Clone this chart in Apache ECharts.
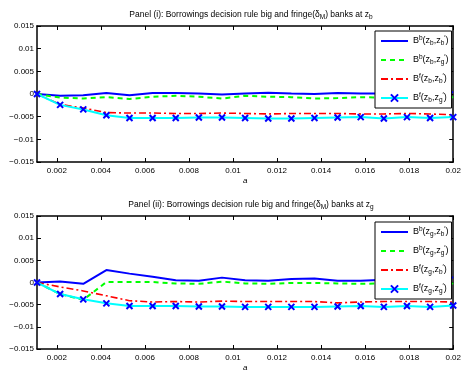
<!DOCTYPE html>
<html>
<head>
<meta charset="utf-8">
<script src="https://cdn.jsdelivr.net/npm/echarts@6/dist/echarts.min.js"></script>
<style>
  html, body { margin: 0; padding: 0; background: #fff; }
  #main { width: 464px; height: 373px; }
</style>
</head>
<body>
<div id="main"></div>
<script>
// x values (a)
var aVals = [0.0011, 0.00215, 0.0032, 0.00425, 0.0053, 0.00635, 0.0074, 0.00845, 0.0095, 0.01055,
             0.0116, 0.01265, 0.0137, 0.01475, 0.0158, 0.01685, 0.0179, 0.01895, 0.02];
var xTicks = [0.002, 0.004, 0.006, 0.008, 0.01, 0.012, 0.014, 0.016, 0.018, 0.02];

// Panel (i): at z_b
var bb_zb_zb = [0, -0.0004, -0.0003, 0.0002, -0.0003, 0.0002, 0.0002, 0.0001, -0.0001, 0.0001,
                0.0003, 0.0001, 0.0000, 0.0002, 0.0001, 0.0001, 0.0002, 0.0004, 0.0004];
var bb_zb_zg = [0, -0.0008, -0.001, -0.0007, -0.0011, -0.0006, -0.0004, -0.0006, -0.001, -0.0004,
                -0.0006, -0.0007, -0.001, -0.0009, -0.0007, -0.0008, -0.0008, -0.0007, -0.0007];
var bf_zb_zb = [0, -0.0023, -0.0031, -0.0041, -0.0042, -0.0042, -0.0043, -0.0043, -0.0042, -0.0043,
                -0.0044, -0.0043, -0.0043, -0.0043, -0.0044, -0.0044, -0.0043, -0.0044, -0.0046];
var bf_zb_zg = [0, -0.0024, -0.0034, -0.0047, -0.0053, -0.0053, -0.0053, -0.0052, -0.0052, -0.0053,
                -0.0054, -0.0054, -0.0053, -0.0052, -0.0051, -0.0054, -0.0051, -0.0053, -0.0051];

// Panel (ii): at z_g
var bb_zg_zb = [0, 0.0002, -0.0003, 0.0028, 0.002, 0.0013, 0.0005, 0.0004, 0.0011, 0.0005,
                0.0004, 0.0008, 0.0009, 0.0004, 0.0004, 0.0006, 0.0008, 0.001, 0.0011];
var bb_zg_zg = [0, -0.0026, -0.0039, 0.0001, 0.0001, 0.0001, -0.0002, -0.0003, 0.0002, -0.0002,
                -0.0003, -0.0001, -0.0001, -0.0002, -0.0003, -0.0002, -0.0002, -0.0003, -0.0002];
var bf_zg_zb = [0, -0.001, -0.0019, -0.003, -0.0041, -0.0044, -0.0043, -0.0044, -0.0042, -0.0043,
                -0.0043, -0.0043, -0.0043, -0.0046, -0.0044, -0.0043, -0.0043, -0.0043, -0.0044];
var bf_zg_zg = [0, -0.0026, -0.0038, -0.0047, -0.0053, -0.0053, -0.0053, -0.0054, -0.0054, -0.0055,
                -0.0055, -0.0055, -0.0055, -0.0054, -0.0053, -0.0055, -0.0053, -0.0055, -0.0052];

var FONT = 'Liberation Sans, Arial, sans-serif';

function pairs(ys) {
    return ys.map(function (y, i) { return [aVals[i], y]; });
}

// name like 'Bb_zb_zg' -> rich text B^b(z_b,z_g')
function legendLabel(name) {
    var p = name.split('_');
    return '{n|B}{sup|' + p[0].charAt(1) + '}{n|(z}{sub|' + p[1].charAt(1) + '}{n|,z}{sub|' +
        p[2].charAt(1) + '}{sup|\u2032}{n|)}';
}

var richText = {
    n: { fontSize: 9, fontFamily: FONT, color: '#000', lineHeight: 12, verticalAlign: 'middle' },
    sup: { fontSize: 6.5, fontFamily: FONT, color: '#000', lineHeight: 7, verticalAlign: 'top' },
    sub: { fontSize: 6.5, fontFamily: FONT, color: '#000', lineHeight: 7, verticalAlign: 'bottom' }
};

var titleRich = {
    t: { fontSize: 8.5, fontFamily: FONT, fontWeight: 'normal', color: '#000', lineHeight: 12, verticalAlign: 'middle' },
    s: { fontSize: 6.5, fontFamily: FONT, fontWeight: 'normal', color: '#000', lineHeight: 6, verticalAlign: 'bottom' }
};

var grids = [
    { left: 37, top: 26, width: 418, height: 136 },
    { left: 37, top: 216, width: 418, height: 136 }
];

function xAx(g, pos) {
    var main = pos === 'bottom';
    return {
        type: 'value', gridIndex: g, position: pos, min: 0.0011, max: 0.02,
        name: main ? 'a' : '', nameLocation: 'middle', nameGap: 15,
        nameTextStyle: { fontFamily: FONT, fontSize: 8, fontStyle: 'italic', color: '#000' },
        axisLine: { show: true, onZero: false, lineStyle: { color: '#000', width: 1.5 } },
        axisTick: { show: true, inside: true, length: 4, customValues: xTicks, lineStyle: { color: '#000' } },
        axisLabel: {
            show: main, customValues: xTicks, margin: 5, fontSize: 8, fontFamily: FONT, color: '#000',
            formatter: function (v) { return String(+(+v).toFixed(4)); }
        },
        splitLine: { show: false }
    };
}

function yAx(g, pos) {
    var main = pos === 'left';
    return {
        type: 'value', gridIndex: g, position: pos, min: -0.015, max: 0.015, interval: 0.005,
        axisLine: { show: true, onZero: false, lineStyle: { color: '#000', width: 1.5 } },
        axisTick: { show: true, inside: true, length: 4, lineStyle: { color: '#000' } },
        axisLabel: {
            show: main, margin: 3, fontSize: 8, fontFamily: FONT, color: '#000',
            formatter: function (v) {
                var s = String(+(+v).toFixed(4));
                return s.replace('-', '\u2212');
            }
        },
        splitLine: { show: false }
    };
}

var lineStyles = [
    { color: '#0000ff', width: 2, type: 'solid' },
    { color: '#00ff00', width: 2, type: [5, 4] },
    { color: '#ff0000', width: 1.6, type: [7, 3, 2, 3] },
    { color: '#00ffff', width: 2, type: 'solid' }
];

function makeSeries(names, datas, g) {
    return names.map(function (nm, k) {
        var s = {
            name: nm, type: 'line', xAxisIndex: g * 2, yAxisIndex: g * 2,
            data: pairs(datas[k]),
            lineStyle: lineStyles[k],
            itemStyle: { color: lineStyles[k].color },
            symbol: 'none',
            z: 2 + k
        };
        if (k === 3) {
            s.symbol = 'path://M0,0L10,10M10,0L0,10';
            s.symbolSize = 6;
            s.showSymbol = true;
            s.itemStyle = { color: '#0000ff', borderColor: '#0000ff', borderWidth: 2 };
        }
        return s;
    });
}

var names1 = ['Bb_zb_zb', 'Bb_zb_zg', 'Bf_zb_zb', 'Bf_zb_zg'];
var names2 = ['Bb_zg_zb', 'Bb_zg_zg', 'Bf_zg_zb', 'Bf_zg_zg'];

function makeLegend(names, top) {
    return {
        data: names.map(function (nm, k) {
            return k === 3 ? { name: nm } : { name: nm, itemStyle: { opacity: 0 } };
        }),
        orient: 'vertical', left: 375, top: top,
        itemWidth: 27, itemHeight: 9, itemGap: 7,
        padding: [4, 3, 4, 5],
        backgroundColor: '#fff', borderColor: '#000', borderWidth: 1,
        selectedMode: false,
        formatter: legendLabel,
        textStyle: { rich: richText }
    };
}

var myChart = echarts.init(document.getElementById('main'));

var option = {
    animation: false,
    backgroundColor: '#fff',
    title: [
        {
            text: '{t|Panel (i): Borrowings decision rule big and fringe(δ}{s|M}{t|) banks at z}{s|b}',
            left: 246, top: 4, textAlign: 'center',
            textStyle: { fontWeight: 'normal', rich: titleRich }
        },
        {
            text: '{t|Panel (ii): Borrowings decision rule big and fringe(δ}{s|M}{t|) banks at z}{s|g}',
            left: 246, top: 194, textAlign: 'center',
            textStyle: { fontWeight: 'normal', rich: titleRich }
        }
    ],
    legend: [makeLegend(names1, 31), makeLegend(names2, 222)],
    grid: grids,
    xAxis: [xAx(0, 'bottom'), xAx(0, 'top'), xAx(1, 'bottom'), xAx(1, 'top')],
    yAxis: [yAx(0, 'left'), yAx(0, 'right'), yAx(1, 'left'), yAx(1, 'right')],
    series: makeSeries(names1, [bb_zb_zb, bb_zb_zg, bf_zb_zb, bf_zb_zg], 0)
        .concat(makeSeries(names2, [bb_zg_zb, bb_zg_zg, bf_zg_zb, bf_zg_zg], 1))
};

myChart.setOption(option);
window.onresize = myChart.resize;
</script>
</body>
</html>
